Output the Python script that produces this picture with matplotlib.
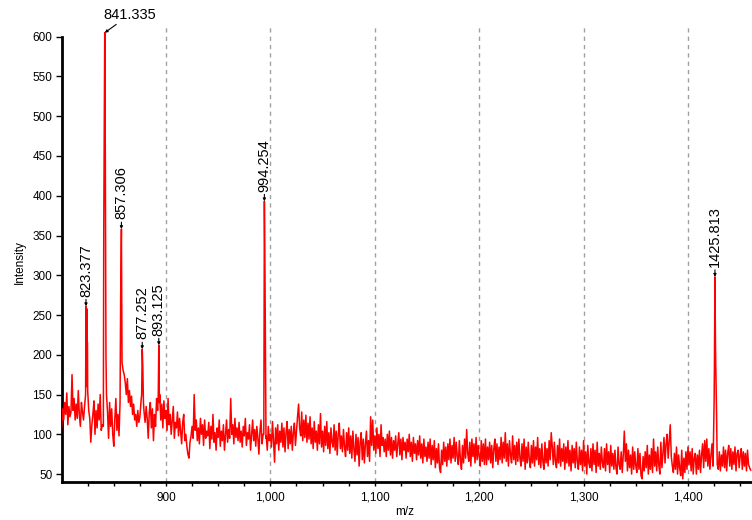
import numpy as np
import matplotlib
matplotlib.use('Agg')
import matplotlib.pyplot as plt

plt.rcParams['font.family'] = ['Liberation Sans', 'DejaVu Sans']

# baseline intensity, one reading per m/z unit from 800 to 1460
base_start = 800
base_intensity = [
	108, 132, 118, 140, 125, 152, 112, 135, 122, 128,
	175, 130, 145, 118, 138, 120, 155, 125, 110, 140,
	128, 118, 135, 150, 200, 155, 130, 120, 90, 112,
	125, 142, 100, 130, 108, 138, 118, 150, 105, 112,
	110, 400, 300, 150, 128, 95, 140, 110, 132, 100,
	85, 120, 145, 105, 125, 98, 140, 300, 190, 180,
	175, 165, 150, 170, 140, 155, 135, 148, 125, 138,
	118, 125, 110, 130, 115, 122, 140, 190, 145, 128,
	115, 135, 120, 95, 128, 140, 108, 132, 92, 125,
	110, 145, 130, 180, 150, 118, 138, 108, 142, 120,
	130, 105, 145, 112, 125, 100, 118, 135, 95, 115,
	108, 128, 98, 120, 104, 88, 115, 125, 92, 100,
	85, 75, 70, 90, 98, 110, 95, 150, 105, 118,
	92, 108, 88, 120, 100, 112, 86, 118, 95, 104,
	98, 115, 82, 110, 94, 125, 90, 102, 80, 108,
	96, 118, 85, 104, 92, 112, 80, 100, 118, 90,
	106, 95, 145, 100, 112, 88, 120, 96, 108, 92,
	115, 90, 104, 84, 110, 98, 120, 86, 102, 94,
	112, 80, 100, 118, 92, 106, 85, 110, 96, 75,
	104, 118, 88, 100, 300, 250, 98, 80, 110, 92,
	100, 84, 116, 92, 65, 108, 88, 112, 80, 104,
	90, 114, 84, 108, 78, 102, 116, 82, 106, 88,
	110, 80, 102, 114, 86, 104, 122, 138, 108, 98,
	128, 92, 118, 96, 124, 90, 114, 94, 122, 88,
	108, 82, 116, 90, 104, 80, 112, 88, 126, 84,
	104, 78, 110, 86, 116, 82, 102, 76, 108, 90,
	84, 112, 80, 104, 74, 100, 114, 82, 98, 78,
	106, 84, 72, 102, 80, 108, 76, 98, 70, 104,
	82, 66, 100, 74, 96, 60, 90, 102, 68, 94,
	64, 88, 104, 72, 92, 66, 122, 86, 118, 80,
	98, 76, 108, 82, 100, 72, 112, 86, 96, 78,
	94, 72, 100, 80, 104, 74, 96, 70, 92, 80,
	98, 72, 88, 102, 74, 94, 68, 96, 80, 90,
	70, 94, 78, 100, 72, 90, 66, 96, 76, 88,
	68, 92, 74, 98, 70, 88, 64, 94, 72, 84,
	66, 90, 70, 94, 62, 86, 68, 92, 58, 82,
	64, 88, 58, 52, 80, 62, 90, 66, 84, 60,
	88, 68, 94, 64, 86, 70, 96, 66, 90, 72,
	62, 92, 68, 56, 86, 64, 94, 70, 106, 76,
	66, 90, 60, 94, 72, 88, 64, 96, 68, 86,
	72, 60, 92, 66, 88, 62, 94, 62, 84, 68,
	90, 64, 86, 58, 82, 94, 66, 88, 62, 84,
	68, 96, 64, 90, 70, 102, 66, 88, 60, 92,
	74, 64, 98, 68, 86, 62, 90, 66, 94, 70,
	60, 88, 66, 94, 56, 84, 64, 90, 68, 58,
	86, 64, 92, 60, 84, 68, 96, 62, 82, 58,
	88, 66, 56, 90, 64, 82, 60, 92, 68, 102,
	84, 62, 90, 66, 58, 86, 64, 94, 60, 82,
	66, 88, 56, 84, 64, 92, 60, 80, 54, 86,
	64, 82, 58, 90, 66, 56, 84, 62, 80, 54,
	92, 60, 78, 50, 86, 64, 58, 82, 54, 88,
	62, 80, 52, 90, 60, 76, 56, 84, 64, 58,
	82, 54, 88, 62, 78, 52, 86, 60, 76, 56,
	80, 58, 50, 84, 62, 56, 78, 52, 74, 104,
	66, 88, 54, 80, 58, 74, 50, 84, 56, 78,
	60, 52, 82, 56, 76, 48, 44, 72, 54, 78,
	58, 86, 50, 74, 56, 82, 52, 94, 60, 78,
	54, 84, 62, 50, 90, 58, 76, 96, 64, 88,
	100, 70, 92, 112, 72, 60, 52, 76, 56, 84,
	50, 74, 58, 48, 80, 44, 70, 52, 78, 56,
	84, 62, 78, 54, 82, 50, 70, 76, 50, 74,
	56, 80, 52, 74, 88, 58, 92, 66, 94, 60,
	82, 56, 74, 88, 60, 140, 250, 140, 62, 56,
	78, 54, 74, 60, 84, 58, 80, 54, 76, 86,
	60, 82, 56, 78, 62, 84, 54, 76, 80, 58,
	74, 82, 56, 78, 60, 76, 54, 80, 62, 58,
	55,
]

# peak profiles (m/z, intensity), the apex of each is the labelled one
peak_823_mz = [823.377, 823.7, 824.1, 824.5, 824.8]
peak_823_int = [261, 160, 258, 218, 215]
peak_841_mz = [840.4, 841.335, 841.9, 842.5]
peak_841_int = [357, 605, 447, 200]
peak_857_mz = [856.6, 857.306, 857.9, 858.5]
peak_857_int = [273, 358, 190, 185]
peak_877_mz = [876.7, 877.252, 877.8, 878.4]
peak_877_int = [150, 207, 185, 140]
peak_893_mz = [892.6, 893.125, 893.7]
peak_893_int = [150, 212, 140]
peak_994_mz = [993.7, 994.254, 994.8, 995.3, 995.8]
peak_994_int = [100, 393, 307, 206, 95]
peak_1425_mz = [1425.3, 1425.813, 1426.3, 1426.6, 1427.2]
peak_1425_int = [184, 298, 215, 185, 140]

peaks = [
	(peak_823_mz, peak_823_int),
	(peak_841_mz, peak_841_int),
	(peak_857_mz, peak_857_int),
	(peak_877_mz, peak_877_int),
	(peak_893_mz, peak_893_int),
	(peak_994_mz, peak_994_int),
	(peak_1425_mz, peak_1425_int),
]

label_mz = [823.377, 841.335, 857.306, 877.252, 893.125, 994.254, 1425.813]
label_int = [261, 605, 358, 207, 212, 393, 298]
label_text = ['823.377', '841.335', '857.306', '877.252', '893.125', '994.254', '1425.813']

xticks = [900, 1000, 1100, 1200, 1300, 1400]
xtick_labels = ['900', '1,000', '1,100', '1,200', '1,300', '1,400']
yticks = [50, 100, 150, 200, 250, 300, 350, 400, 450, 500, 550, 600]

# merge the peak profiles into the baseline trace
base_mz = np.arange(base_start, base_start + len(base_intensity))
base_int = np.array(base_intensity, dtype=float)
keep = np.ones(len(base_mz), dtype=bool)
for pm, pi in peaks:
	keep &= ~((base_mz >= pm[0]) & (base_mz <= pm[-1]))
mz = list(base_mz[keep])
inten = list(base_int[keep])
for pm, pi in peaks:
	mz += pm
	inten += pi
order = np.argsort(mz)
mz = np.array(mz)[order]
inten = np.array(inten)[order]

fig = plt.figure(figsize=(7.52, 5.2), dpi=100)
ax = fig.add_axes([62 / 752, 38 / 520, 690 / 752, 458 / 520])

ax.plot(mz, inten, color='#ff0000', lw=1.1, zorder=3)

ax.set_xlim(800.4, 1461.3)
ax.set_ylim(40, 616)

for x in xticks:
	ax.axvline(x, color='#a0a0a0', lw=1, ls=(0, (3, 3)), zorder=1)

ax.set_xticks(xticks)
ax.set_xticklabels(xtick_labels)
ax.set_xticks(np.arange(825, 1461, 25), minor=True)
ax.set_yticks(yticks)
ax.tick_params(axis='x', which='both', length=3, width=1, labelsize=8.5, pad=4)
ax.tick_params(axis='y', length=4, width=1, labelsize=8.5, pad=3)

ax.spines['top'].set_visible(False)
ax.spines['right'].set_visible(False)
ax.spines['left'].set_linewidth(2)
ax.spines['bottom'].set_linewidth(2)
ax.spines['left'].set_bounds(40, 600)

# peak annotations
for x, y, t in zip(label_mz, label_int, label_text):
	if t == '841.335':
		ax.annotate(t, xy=(x, y), xytext=(-1, 8), textcoords='offset points',
			ha='left', va='bottom', fontsize=10.5, annotation_clip=False,
			arrowprops=dict(arrowstyle='-|>', color='black', lw=0.8,
				mutation_scale=4, shrinkA=0, shrinkB=0))
	else:
		ax.annotate(t, xy=(x, y), xytext=(0, 7), textcoords='offset points',
			ha='center', va='bottom', rotation=90, fontsize=10.5, annotation_clip=False,
			arrowprops=dict(arrowstyle='-|>', color='black', lw=0.8,
				mutation_scale=4, shrinkA=0, shrinkB=0))

fig.text(20 / 752, 1 - 262 / 520, 'Intensity', rotation=90, ha='center', va='center', fontsize=8.5)
fig.text(405 / 752, 1 - 512 / 520, 'm/z', ha='center', va='center', fontsize=8.5)

fig.savefig('out.png', dpi=100)
